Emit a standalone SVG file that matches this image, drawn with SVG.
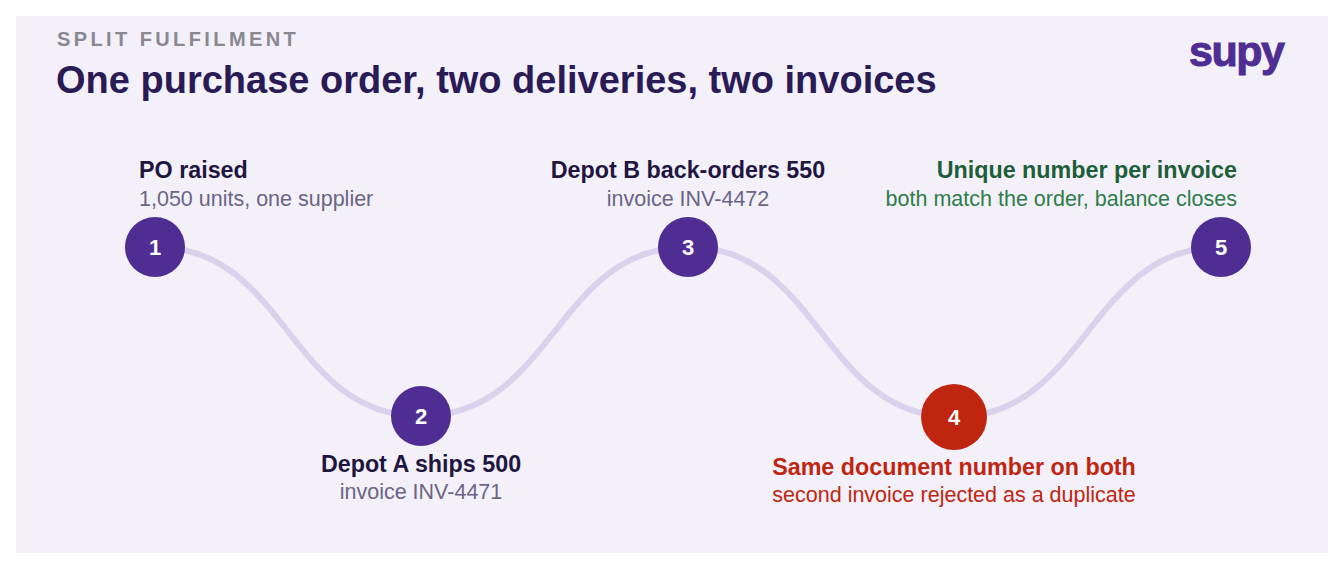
<svg xmlns="http://www.w3.org/2000/svg" width="1344" height="578" viewBox="0 0 1344 578">
<style>
text{font-family:"Liberation Sans",Arial,sans-serif}
.t{font-weight:bold;font-size:23.3px;fill:#1f1640}
.s{font-size:21.5px;fill:#6b6585}
.n{font-weight:bold;font-size:22px;fill:#fff}
.c{fill:#4f2d93}
</style>
<rect width="1344" height="578" fill="#fff"/>
<rect x="16" y="16" width="1312" height="537" fill="#f3f0fa"/>
<text x="57" y="46" font-size="20" font-weight="bold" fill="#8a8791" letter-spacing="3.4">SPLIT FULFILMENT</text>
<text x="56" y="93" font-size="38" font-weight="bold" fill="#2a1a56">One purchase order, two deliveries, two invoices</text>
<text x="1189" y="66" font-size="43" font-weight="bold" fill="#4f2d93" letter-spacing="-1.5" stroke="#4f2d93" stroke-width="1">supy</text>
<g id="connectors">
<path d="M155,247 C288,247 288,416 421,416 C554,416 555,247 688,247 C821,247 821,417 954,417 C1087,417 1088,247 1221,247" fill="none" stroke="#d8d2ec" stroke-width="6"/>
</g>
<g id="n1"><circle class="c" cx="155" cy="247" r="30"/><text class="n" x="155" y="255" text-anchor="middle">1</text>
<text class="t" x="139" y="178">PO raised</text><text class="s" x="139" y="206">1,050 units, one supplier</text></g>
<g id="n2"><circle class="c" cx="421" cy="416" r="30"/><text class="n" x="421" y="424" text-anchor="middle">2</text>
<text class="t" x="421" y="472" text-anchor="middle">Depot A ships 500</text><text class="s" x="421" y="499" text-anchor="middle">invoice INV-4471</text></g>
<g id="n3"><circle class="c" cx="688" cy="247" r="30"/><text class="n" x="688" y="255" text-anchor="middle">3</text>
<text class="t" x="688" y="178" text-anchor="middle">Depot B back-orders 550</text><text class="s" x="688" y="206" text-anchor="middle">invoice INV-4472</text></g>
<g id="n4"><circle cx="954" cy="417" r="33" fill="#c0260f"/><text class="n" x="954" y="425" text-anchor="middle">4</text>
<text class="t" x="954" y="475" text-anchor="middle" style="fill:#c0260f">Same document number on both</text><text class="s" x="954" y="502" text-anchor="middle" style="fill:#c0260f">second invoice rejected as a duplicate</text></g>
<g id="n5"><circle class="c" cx="1221" cy="247" r="30"/><text class="n" x="1221" y="255" text-anchor="middle">5</text>
<text class="t" x="1237" y="178" text-anchor="end" style="fill:#1d5e38">Unique number per invoice</text><text class="s" x="1237" y="206" text-anchor="end" style="fill:#2e7d4a">both match the order, balance closes</text></g>
</svg>
